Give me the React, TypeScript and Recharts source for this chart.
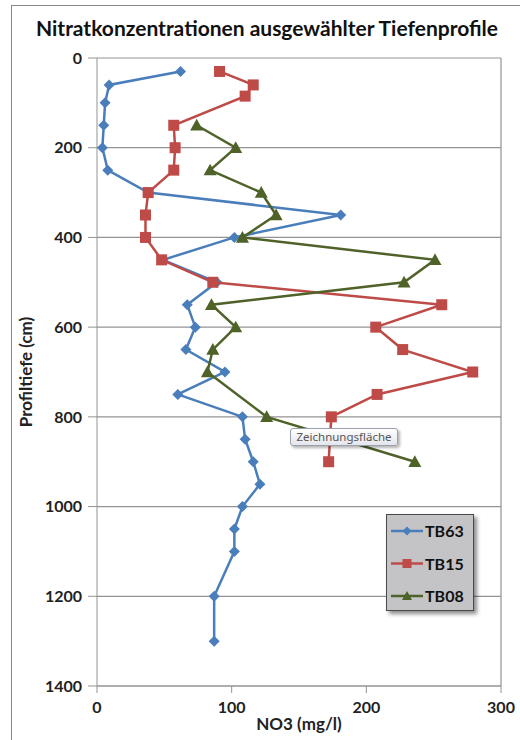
import React from "react";
import {
  ScatterChart,
  Scatter,
  XAxis,
  YAxis,
  CartesianGrid,
  ReferenceLine,
} from "recharts";

const tb63Depth = [30, 60, 100, 150, 200, 250, 300, 350, 400, 450, 500, 550, 600, 650, 700, 750, 800, 850, 900, 950, 1000, 1050, 1100, 1200, 1300];
const tb63No3 = [62, 9, 6, 5, 4, 8, 38, 181, 102, 49, 89, 67, 73, 66, 95, 60, 108, 110, 116, 121, 108, 102, 102, 87, 87];

const tb15Depth = [30, 60, 85, 150, 200, 250, 300, 350, 400, 450, 500, 550, 600, 650, 700, 750, 800, 900];
const tb15No3 = [91, 116, 110, 57, 58, 57, 38, 36, 36, 48, 86, 256, 207, 227, 279, 208, 174, 172];

const tb08Depth = [150, 200, 250, 300, 350, 400, 450, 500, 550, 600, 650, 700, 800, 900];
const tb08No3 = [74, 103, 84, 122, 133, 108, 251, 228, 85, 103, 86, 82, 126, 236];

const xTicks = [0, 100, 200, 300];
const yTicks = [0, 200, 400, 600, 800, 1000, 1200, 1400];

const seriesNames = ["TB63", "TB15", "TB08"];
const colors = ["#4a7ebb", "#be4b48", "#4f6228"];

const toPoints = (xs: number[], ys: number[]) => xs.map((x, i) => ({ x, y: ys[i] }));

const tb63 = toPoints(tb63No3, tb63Depth);
const tb15 = toPoints(tb15No3, tb15Depth);
const tb08 = toPoints(tb08No3, tb08Depth);

const FONT = "Lato, 'Open Sans', sans-serif";

const Diamond = (props: any) => {
  const { cx, cy } = props;
  const r = 5.5;
  return <path d={`M${cx},${cy - r}L${cx + r},${cy}L${cx},${cy + r}L${cx - r},${cy}Z`} fill={colors[0]} />;
};
const Square = (props: any) => {
  const { cx, cy } = props;
  const r = 5.5;
  return <rect x={cx - r} y={cy - r} width={2 * r} height={2 * r} fill={colors[1]} />;
};
const Triangle = (props: any) => {
  const { cx, cy } = props;
  const r = 6.5;
  return <path d={`M${cx},${cy - r}L${cx + r},${cy + r * 0.8}L${cx - r},${cy + r * 0.8}Z`} fill={colors[2]} />;
};

const legendMarkers = [
  (cx: number, cy: number) => <path d={`M${cx},${cy - 4.5}L${cx + 4.5},${cy}L${cx},${cy + 4.5}L${cx - 4.5},${cy}Z`} fill={colors[0]} />,
  (cx: number, cy: number) => <rect x={cx - 4.5} y={cy - 4.5} width={9} height={9} fill={colors[1]} />,
  (cx: number, cy: number) => <path d={`M${cx},${cy - 5}L${cx + 5},${cy + 4}L${cx - 5},${cy + 4}Z`} fill={colors[2]} />,
];

const Legend = () => (
  <div
    style={{
      position: "absolute",
      left: 386,
      top: 514,
      width: 88,
      height: 97,
      background: "#c4c4c6",
      border: "1.5px solid #4a4a4a",
      boxShadow: "3px 3px 4px rgba(0,0,0,0.45)",
      boxSizing: "border-box",
    }}
  >
    <svg width={88} height={97}>
      {seriesNames.map((name, i) => {
        const y = 16 + i * 32.5;
        return (
          <g key={name}>
            <line x1={4} y1={y} x2={36} y2={y} stroke={colors[i]} strokeWidth={2.5} />
            {legendMarkers[i](20, y)}
            <text x={38} y={y + 6} fontFamily={FONT} fontWeight={700} fontSize={16} fill="#111">
              {name}
            </text>
          </g>
        );
      })}
    </svg>
  </div>
);

const YTitle = (props: any) => {
  const vb = props.viewBox || { x: 0, y: 58, width: 97, height: 628 };
  const x = 25;
  const y = vb.y + vb.height / 2;
  return (
    <text
      x={x}
      y={y}
      transform={`rotate(-90, ${x}, ${y})`}
      textAnchor="middle"
      dominantBaseline="central"
      fontFamily={FONT}
      fontWeight={700}
      fontSize={17}
      fill="#222"
    >
      Profiltiefe (cm)
    </text>
  );
};

export default function App() {
  return (
    <div style={{ position: "absolute", left: 0, top: 0, width: 520, height: 740, background: "#fff", overflow: "hidden" }}>
      <div style={{ position: "absolute", left: 11, top: 5, width: 509, height: 735, borderLeft: "1.5px solid #888", borderTop: "1.5px solid #888" }} />
      <div
        style={{
          position: "absolute",
          left: 0,
          top: 14,
          width: 534,
          textAlign: "center",
          fontFamily: FONT,
          fontWeight: 700,
          fontSize: 21,
          lineHeight: "28px",
          color: "#111",
        }}
      >
        Nitratkonzentrationen ausgewählter Tiefenprofile
      </div>
      <div style={{ position: "absolute", left: 0, top: 0 }}>
        <ScatterChart width={520} height={740} margin={{ top: 58, right: 19, bottom: 0, left: 0 }}>
          <CartesianGrid vertical={false} stroke="#939393" strokeWidth={1.2} />
          <ReferenceLine x={300} stroke="#939393" strokeWidth={1.2} />
          <XAxis
            type="number"
            dataKey="x"
            domain={[0, 300]}
            ticks={xTicks}
            height={54}
            stroke="#939393"
            tickSize={7}
            tickMargin={9}
            tick={{ fill: "#222", fontSize: 16, fontWeight: 700, fontFamily: FONT }}
            label={{ value: "NO3 (mg/l)", position: "insideBottom", offset: 10, fill: "#222", fontSize: 17, fontWeight: 700, fontFamily: FONT }}
          />
          <YAxis
            type="number"
            dataKey="y"
            domain={[0, 1400]}
            ticks={yTicks}
            reversed
            width={97}
            stroke="#939393"
            tickSize={9}
            tickMargin={6}
            tick={{ fill: "#222", fontSize: 16, fontWeight: 700, fontFamily: FONT }}
            label={{ content: YTitle }}
          />
          <Scatter name="TB63" data={tb63} line={{ stroke: colors[0], strokeWidth: 2.5 }} lineJointType="linear" shape={<Diamond />} isAnimationActive={false} />
          <Scatter name="TB15" data={tb15} line={{ stroke: colors[1], strokeWidth: 2.5 }} lineJointType="linear" shape={<Square />} isAnimationActive={false} />
          <Scatter name="TB08" data={tb08} line={{ stroke: colors[2], strokeWidth: 2.5 }} lineJointType="linear" shape={<Triangle />} isAnimationActive={false} />
        </ScatterChart>
      </div>
      <div
        style={{
          position: "absolute",
          left: 290,
          top: 428,
          width: 108,
          height: 18,
          boxSizing: "border-box",
          border: "1px solid #9aa0b0",
          borderRadius: 3,
          background: "linear-gradient(#ffffff, #e4e6ec)",
          boxShadow: "2px 2px 3px rgba(0,0,0,0.3)",
          fontFamily: "'Noto Sans', sans-serif",
          fontSize: 11.5,
          color: "#555",
          lineHeight: "16px",
          textAlign: "center",
          whiteSpace: "nowrap",
        }}
      >
        Zeichnungsfläche
      </div>
      <Legend />
    </div>
  );
}
